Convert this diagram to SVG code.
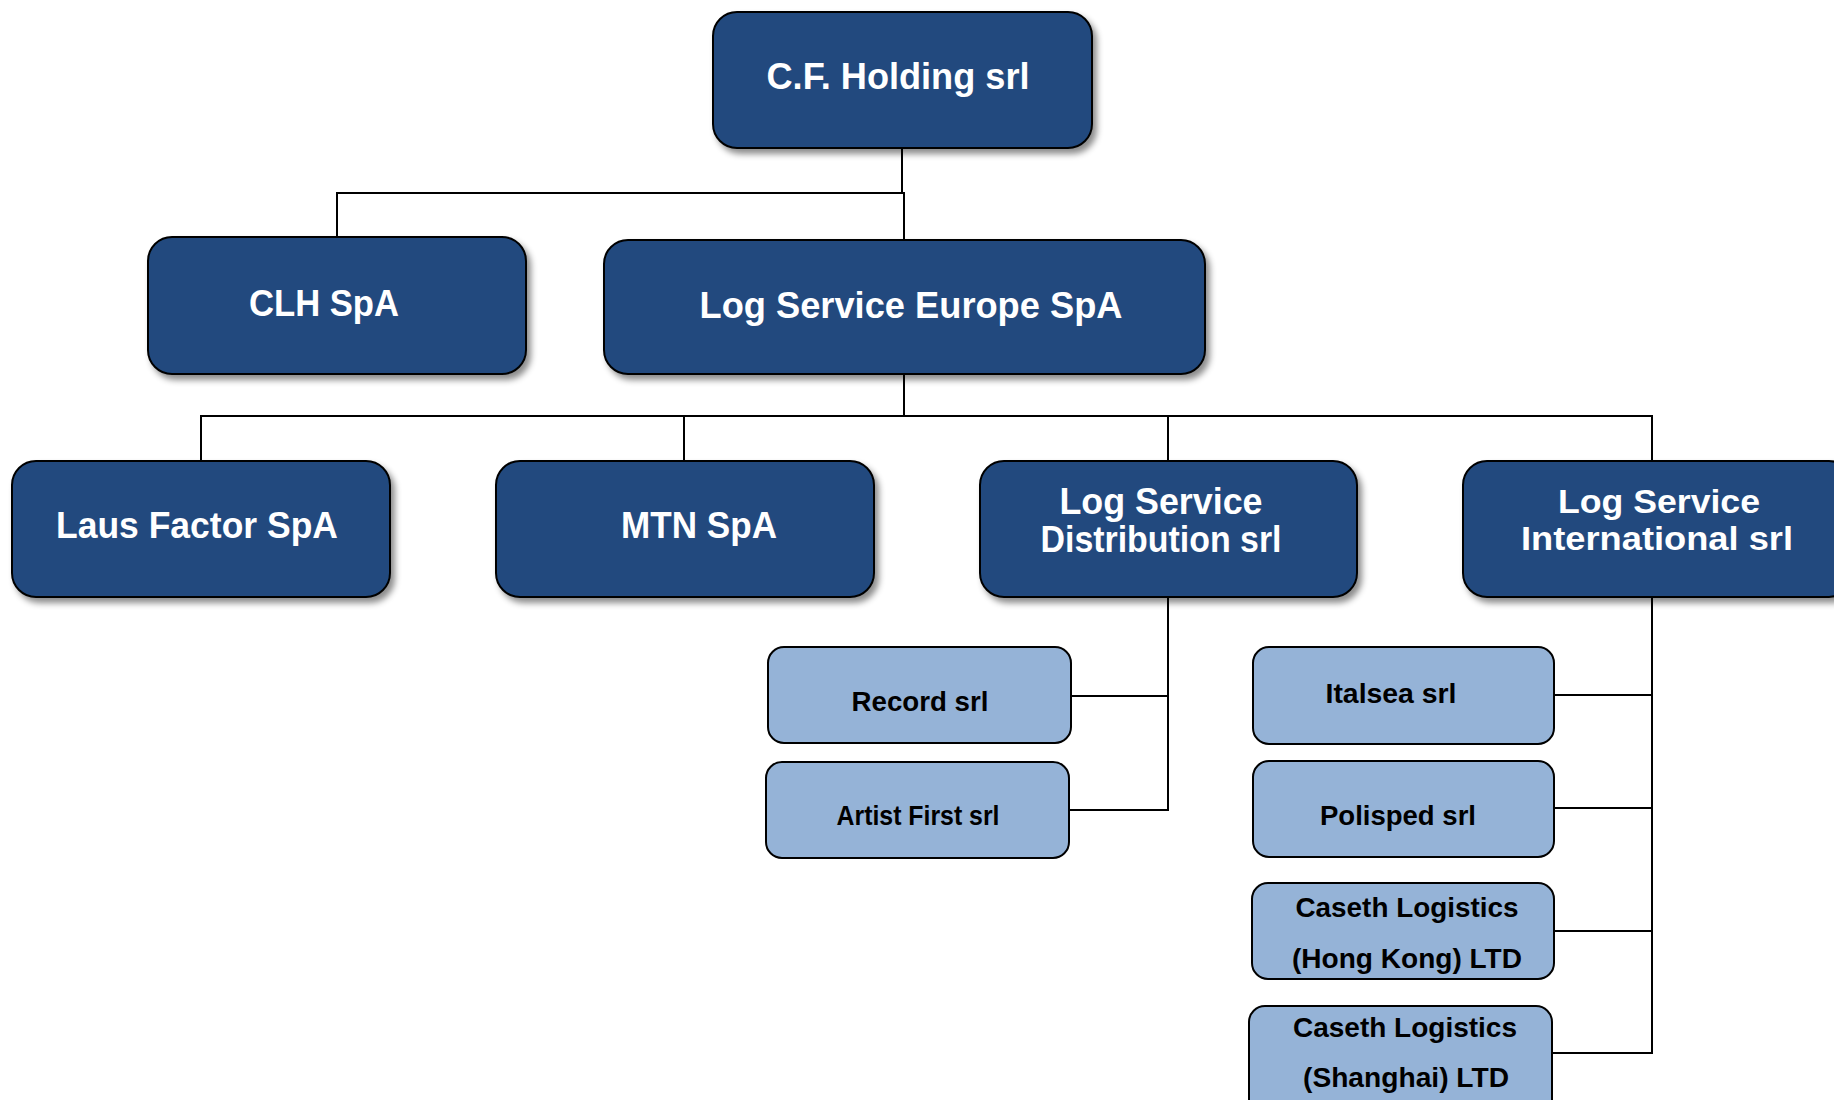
<svg xmlns="http://www.w3.org/2000/svg" width="1834" height="1100" viewBox="0 0 1834 1100">
<style>
.dk{fill:#204a7e;stroke:#000;stroke-width:2}
.lt{fill:#95b3d7;stroke:#000;stroke-width:2}
.tw{font-family:"Liberation Sans",Arial,sans-serif;font-weight:bold;font-size:36px;fill:#fff;text-anchor:middle}
.tb{font-family:"Liberation Sans",Arial,sans-serif;font-weight:bold;font-size:27px;fill:#000;text-anchor:middle}
.ln{fill:none;stroke:#000;stroke-width:2}
</style>
<defs>
<filter id="sh" x="-10%" y="-10%" width="125%" height="130%">
<feDropShadow dx="4" dy="5" stdDeviation="3" flood-color="#000" flood-opacity="0.45"/>
</filter>
</defs>
<rect width="1834" height="1100" fill="#fff"/>
<g id="connectors" class="ln">
<path d="M902 148 V193 H337 V237"/>
<path d="M902 193 H904 V240"/>
<path d="M904 374 V416 H201 V461"/>
<path d="M684 416 V461"/>
<path d="M1168 416 V461"/>
<path d="M904 416 H1652 V461"/>
<path d="M1168 596 V810 H1069"/>
<path d="M1168 696 H1071"/>
<path d="M1652 596 V1053 H1552"/>
<path d="M1652 695 H1554"/>
<path d="M1652 808 H1554"/>
<path d="M1652 931 H1554"/>
</g>
<g id="cf-holding">
<rect class="dk" filter="url(#sh)" x="713" y="12" width="379" height="136" rx="24"/>
<text class="tw" x="898" y="89" textLength="263" lengthAdjust="spacingAndGlyphs">C.F. Holding srl</text>
</g>
<g id="clh">
<rect class="dk" filter="url(#sh)" x="148" y="237" width="378" height="137" rx="24"/>
<text class="tw" x="324" y="316" textLength="150" lengthAdjust="spacingAndGlyphs">CLH SpA</text>
</g>
<g id="lse">
<rect class="dk" filter="url(#sh)" x="604" y="240" width="601" height="134" rx="24"/>
<text class="tw" x="911" y="318" textLength="423" lengthAdjust="spacingAndGlyphs">Log Service Europe SpA</text>
</g>
<g id="laus">
<rect class="dk" filter="url(#sh)" x="12" y="461" width="378" height="136" rx="24"/>
<text class="tw" x="197" y="538" textLength="282" lengthAdjust="spacingAndGlyphs">Laus Factor SpA</text>
</g>
<g id="mtn">
<rect class="dk" filter="url(#sh)" x="496" y="461" width="378" height="136" rx="24"/>
<text class="tw" x="699" y="538" textLength="156" lengthAdjust="spacingAndGlyphs">MTN SpA</text>
</g>
<g id="lsd">
<rect class="dk" filter="url(#sh)" x="980" y="461" width="377" height="136" rx="24"/>
<text class="tw" x="1161" y="514" textLength="203" lengthAdjust="spacingAndGlyphs">Log Service</text>
<text class="tw" x="1161" y="552" textLength="241" lengthAdjust="spacingAndGlyphs">Distribution srl</text>
</g>
<g id="lsi">
<rect class="dk" filter="url(#sh)" x="1463" y="461" width="390" height="136" rx="24"/>
<text class="tw" style="font-size:33px" x="1659" y="513" textLength="202" lengthAdjust="spacingAndGlyphs">Log Service</text>
<text class="tw" style="font-size:33px" x="1657" y="550" textLength="272" lengthAdjust="spacingAndGlyphs">International srl</text>
</g>
<g id="record">
<rect class="lt" x="768" y="647" width="303" height="96" rx="16"/>
<text class="tb" x="920" y="711" textLength="137" lengthAdjust="spacingAndGlyphs">Record srl</text>
</g>
<g id="artist-first">
<rect class="lt" x="766" y="762" width="303" height="96" rx="16"/>
<text class="tb" x="918" y="825" textLength="163" lengthAdjust="spacingAndGlyphs">Artist First srl</text>
</g>
<g id="italsea">
<rect class="lt" x="1253" y="647" width="301" height="97" rx="16"/>
<text class="tb" x="1391" y="703" textLength="131" lengthAdjust="spacingAndGlyphs">Italsea srl</text>
</g>
<g id="polisped">
<rect class="lt" x="1253" y="761" width="301" height="96" rx="16"/>
<text class="tb" x="1398" y="825" textLength="156" lengthAdjust="spacingAndGlyphs">Polisped srl</text>
</g>
<g id="caseth-hk">
<rect class="lt" x="1252" y="883" width="302" height="96" rx="16"/>
<text class="tb" x="1407" y="917" textLength="223" lengthAdjust="spacingAndGlyphs">Caseth Logistics</text>
<text class="tb" x="1407" y="968" textLength="230" lengthAdjust="spacingAndGlyphs">(Hong Kong) LTD</text>
</g>
<g id="caseth-sh">
<rect class="lt" x="1249" y="1006" width="303" height="110" rx="16"/>
<text class="tb" x="1405" y="1037" textLength="224" lengthAdjust="spacingAndGlyphs">Caseth Logistics</text>
<text class="tb" x="1406" y="1087" textLength="206" lengthAdjust="spacingAndGlyphs">(Shanghai) LTD</text>
</g>
</svg>
